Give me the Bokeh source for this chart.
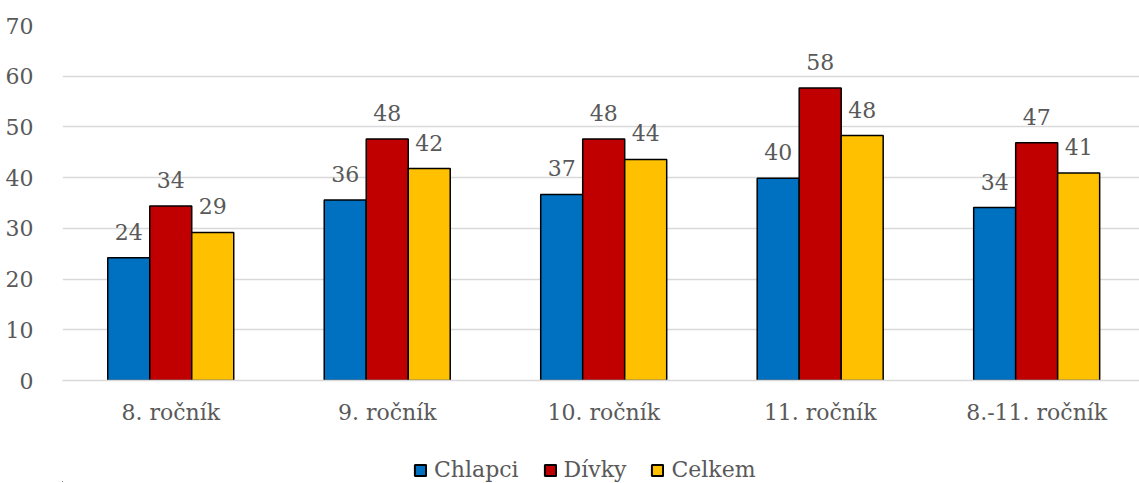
from bokeh.plotting import figure
from bokeh.layouts import column
from bokeh.models import Range1d, FixedTicker, Legend, LegendItem, ColumnDataSource
from bokeh.embed import file_html
from bokeh.resources import INLINE
from bokeh.core.properties import value

categories = ["8. ročník", "9. ročník", "10. ročník", "11. ročník", "8.-11. ročník"]
series = ["Chlapci", "Dívky", "Celkem"]
chlapci = [24.2, 35.6, 36.7, 39.9, 34.1]
divky = [34.4, 47.6, 47.6, 57.7, 46.9]
celkem = [29.2, 41.8, 43.6, 48.3, 40.9]
colors = ["#0070C0", "#C00000", "#FFC000"]
y_ticks = [0, 10, 20, 30, 40, 50, 60, 70]

FONT = "DejaVu Serif"
TXT = "#595959"
FS = "22px"

W = 1139
p = figure(width=W, height=450, output_backend="svg", toolbar_location=None,
           x_range=Range1d(0.5, 0.5 + 4.975), y_range=Range1d(0, 70),
           min_border_left=62, min_border_right=0, min_border_top=25, min_border_bottom=70)
p.outline_line_color = None
p.xgrid.visible = False
p.ygrid.grid_line_color = "#d9d9d9"
p.ygrid.grid_line_width = 1.5

p.yaxis.ticker = FixedTicker(ticks=y_ticks)
p.yaxis.axis_line_color = None
p.yaxis.major_tick_line_color = None
p.yaxis.minor_tick_line_color = None
p.yaxis.major_label_text_font = FONT
p.yaxis.major_label_text_font_size = FS
p.yaxis.major_label_text_color = TXT
p.yaxis.major_label_standoff = 23

xpos = list(range(1, len(categories) + 1))
p.xaxis.ticker = FixedTicker(ticks=xpos)
p.xaxis.major_label_overrides = {i: c for i, c in zip(xpos, categories)}
p.xaxis.axis_line_color = "#d9d9d9"
p.xaxis.axis_line_width = 1.5
p.xaxis.major_tick_line_color = None
p.xaxis.minor_tick_line_color = None
p.xaxis.major_label_text_font = FONT
p.xaxis.major_label_text_font_size = FS
p.xaxis.major_label_text_color = TXT
p.xaxis.major_label_standoff = 13

bw = 0.194
for k, (name, vals, col) in enumerate(zip(series, [chlapci, divky, celkem], colors)):
    xs = [x + (k - 1) * bw for x in xpos]
    src = ColumnDataSource(dict(x=xs, top=vals, lab=[str(int(round(v))) for v in vals]))
    p.vbar(x="x", top="top", width=bw, source=src, fill_color=col,
           line_color="black", line_width=1.5)
    p.text(x="x", y="top", text="lab", source=src, text_align="center",
           text_baseline="alphabetic", y_offset=-26, text_font=value(FONT),
           text_font_size=FS, text_color=TXT)

# legend strip (its renderers lie outside the visible range; only their legend swatches show)
p2 = figure(width=W, height=32, output_backend="svg", toolbar_location=None,
            x_axis_location=None, y_axis_location=None,
            x_range=Range1d(0, 1), y_range=Range1d(0, 1),
            min_border=0)
p2.outline_line_color = None
p2.grid.visible = False
items = []
for name, col in zip(series, colors):
    r = p2.vbar(x=[-5], top=[-5], bottom=[-6], width=0.1, fill_color=col,
                line_color="black", line_width=2)
    items.append(LegendItem(label=name, renderers=[r]))
legend = Legend(items=items, orientation="horizontal", location=(351, 0),
                border_line_color=None, background_fill_alpha=0,
                glyph_width=14, glyph_height=14, label_standoff=7, spacing=24,
                margin=0, padding=3)
legend.label_text_font = FONT
legend.label_text_font_style = "normal"
legend.label_text_font_size = FS
legend.label_text_color = TXT
p2.add_layout(legend, "center")

layout = column(p, p2, spacing=0)
open("out.html", "w").write(file_html(layout, INLINE))
